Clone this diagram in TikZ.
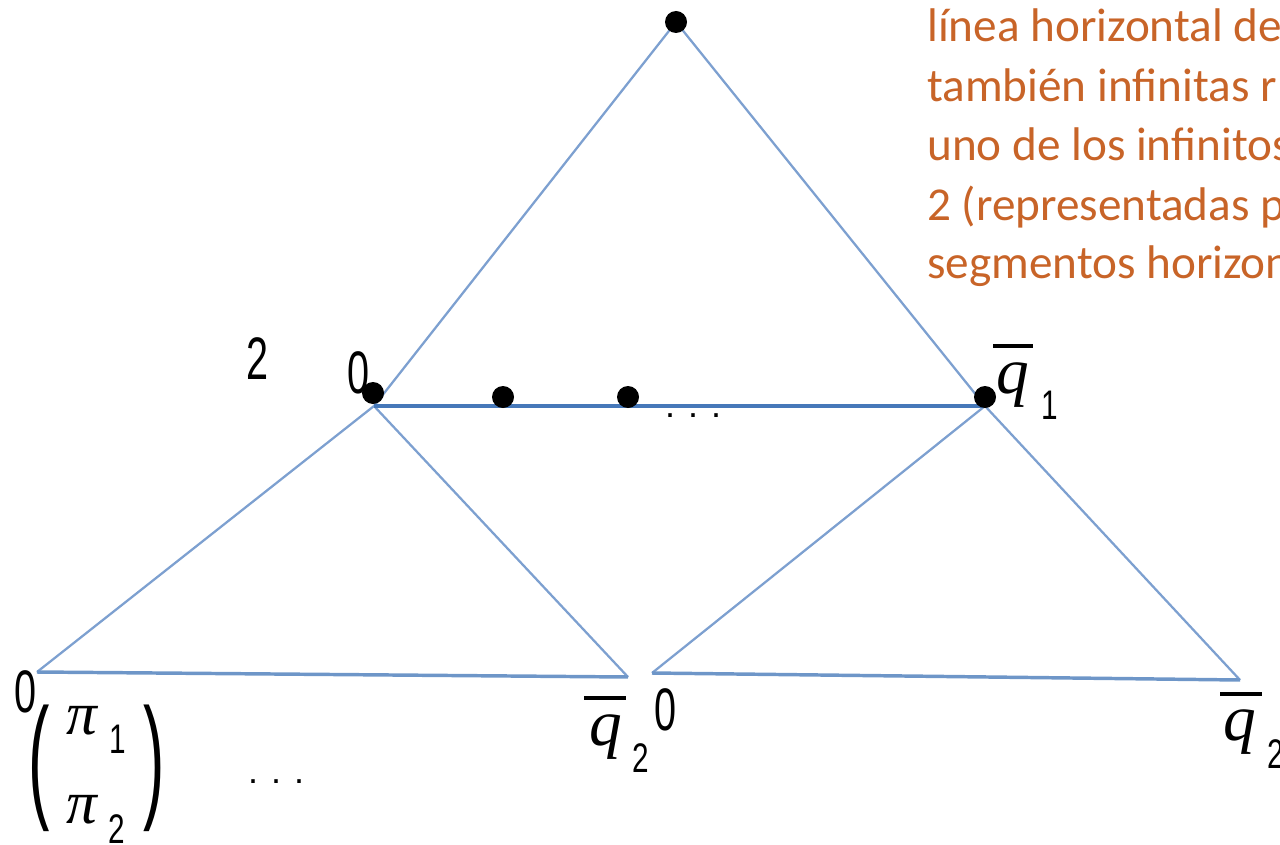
\documentclass[tikz,border=0pt]{standalone}
\usepackage{fontspec}
\usepackage{graphicx}
\setmainfont{Liberation Sans}
\newfontfamily\orfont{Carlito}
\newfontfamily\serfont{Liberation Serif}
\definecolor{orangetxt}{RGB}{200,100,40}
\definecolor{diagc}{RGB}{125,160,208}
\definecolor{hlinec}{RGB}{70,120,185}
\definecolor{blinec}{RGB}{110,150,200}
\newcommand{\bigdig}[1]{{\fontsize{45}{45}\selectfont\scalebox{0.66}[1]{#1}}}
\newcommand{\subdig}[1]{{\fontsize{31}{31}\selectfont\scalebox{0.72}[1]{#1}}}
\newcommand{\qit}{{\serfont\itshape\fontsize{49}{49}\selectfont q}}
\newcommand{\piit}{{\serfont\itshape\fontsize{46}{46}\selectfont π}}
\newcommand{\mydots}{{\fontsize{27}{27}\selectfont .\kern9.75pt.\kern9.75pt.}}
\begin{document}
\begin{tikzpicture}[x=0.75pt,y=-0.75pt,
  lab/.style={inner sep=0pt, outer sep=0pt},
  dotnode/.style={circle, fill=black, inner sep=0pt, minimum size=16.5pt},
  bar/.style={fill=black, inner sep=0pt, minimum height=3pt},
  diag/.style={draw=diagc, line width=1.7pt},
  hline/.style={draw=hlinec, line width=2.3pt},
  bline/.style={draw=blinec, line width=2.6pt},
  note/.style={anchor=base west, inner sep=0pt, text=orangetxt, font=\orfont\fontsize{35.4}{44}\selectfont}]
\useasboundingbox (0,0) rectangle (1280,845);
\clip (0,0) rectangle (1280,845);
% vertices
\coordinate (T) at (676,22);
\coordinate (A) at (374,406);
\coordinate (B) at (985,406);
\coordinate (L) at (37,672);
\coordinate (M1) at (628,677);
\coordinate (M2) at (652,673);
\coordinate (R) at (1240,680);
% connectors
\draw[diag] (T) -- (A);
\draw[diag] (A) -- (L);
\draw[diag] (T) -- (B);
\draw[diag] (B) -- (R);
\draw[diag] (A) -- (M1);
\draw[diag] (B) -- (M2);
\draw[bline] (L) -- (M1);
\draw[bline] (M2) -- (R);
\draw[hline] (A) -- (B);
% dots
\node[dotnode] (dT) at (676,22) {};
\node[dotnode] (dA) at (373,393) {};
\node[dotnode] (d1) at (503,397) {};
\node[dotnode] (d2) at (628,397) {};
\node[dotnode] (dB) at (985,397) {};
% labels
\node[lab] (n2) at (258,359) {\bigdig{2}};
\node[lab] (n0a) at (359,373) {\bigdig{0}};
\node[bar, minimum width=30pt] (q1bar) at (1013,346) {};
\node[lab] (q1) at (1013,385) {\qit};
\node[lab] (q1s) at (1050,405) {\subdig{1}};
\node[lab] (n0b) at (26,692) {\bigdig{0}};
\node[lab] (lpar) at (39,768) {{\fontsize{60}{60}\selectfont\scalebox{0.8}[1.7]{(}}};
\node[lab] (rpar) at (154,768) {{\fontsize{60}{60}\selectfont\scalebox{0.8}[1.7]{)}}};
\node[lab] (pi1) at (82,721) {\piit};
\node[lab] (pi1s) at (118,739) {\subdig{1}};
\node[lab] (pi2) at (82,810) {\piit};
\node[lab] (pi2s) at (117,829) {\subdig{2}};
\node[lab] (dotsA) at (276,782) {\mydots};
\node[bar, minimum width=31pt] (q2bar) at (605,698) {};
\node[lab] (q2) at (606,737) {\qit};
\node[lab] (q2s) at (641,758) {\subdig{2}};
\node[lab] (n0c) at (666,710) {\bigdig{0}};
\node[bar, minimum width=31.5pt] (q3bar) at (1241,694) {};
\node[lab] (q3) at (1240,732) {\qit};
\node[lab] (q3s) at (1276,754) {\subdig{2}};
\node[lab] (dotsB) at (693,416) {\mydots};
% note text
\node[note] (t1) at (927,42) {línea horizontal de};
\node[note] (t2) at (927,102) {también infinitas r};
\node[note] (t3) at (927,161) {uno de los infinitos};
\node[note] (t4) at (927,220) {2 (representadas p};
\node[note] (t5) at (927,278) {segmentos horizon};
\end{tikzpicture}
\end{document}
